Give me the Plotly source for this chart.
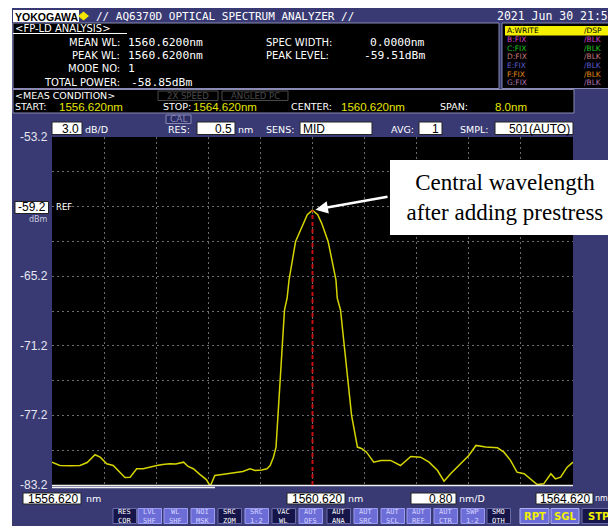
import plotly.graph_objects as go

# ---------------- spectrum data (trace A) ----------------
wavelength_nm = [
    1556.62, 1556.74, 1556.90, 1557.05, 1557.16, 1557.28, 1557.36, 1557.46, 1557.56, 1557.63,
    1557.74, 1557.82, 1557.92, 1558.02, 1558.12, 1558.23, 1558.32, 1558.43, 1558.52, 1558.64,
    1558.71, 1558.79, 1558.89, 1558.99, 1559.05, 1559.12, 1559.23, 1559.35, 1559.46, 1559.55,
    1559.66, 1559.74, 1559.84, 1559.92, 1559.97, 1560.02, 1560.06, 1560.09, 1560.12, 1560.16,
    1560.19, 1560.23, 1560.26, 1560.36, 1560.48, 1560.54, 1560.62, 1560.70, 1560.76, 1560.86,
    1560.98, 1561.00, 1561.05, 1561.11, 1561.16, 1561.22, 1561.31, 1561.38, 1561.45, 1561.51,
    1561.56, 1561.67, 1561.82, 1561.97, 1562.13, 1562.28, 1562.41, 1562.54, 1562.64, 1562.74,
    1562.90, 1563.02, 1563.13, 1563.28, 1563.46, 1563.56, 1563.66, 1563.76, 1563.87, 1564.02,
    1564.07, 1564.17, 1564.28, 1564.35, 1564.43, 1564.53, 1564.62,
]
level_dbm = [
    -81.23, -81.52, -81.55, -81.52, -81.26, -80.59, -80.80, -81.37, -81.52, -81.95,
    -82.55, -82.53, -81.80, -81.80, -81.65, -81.52, -81.43, -81.37, -81.39, -81.23,
    -81.60, -81.80, -82.29, -82.73, -83.30, -82.38, -82.29, -82.18, -82.09, -82.03,
    -81.80, -81.95, -81.90, -81.80, -81.52, -80.80, -79.93, -77.19, -74.17, -71.14,
    -68.11, -67.10, -65.52, -62.21, -60.62, -59.90, -59.51, -59.90, -60.62, -62.21,
    -65.52, -67.10, -68.11, -71.14, -74.17, -77.19, -79.93, -80.07, -80.37, -80.80,
    -81.23, -81.08, -81.08, -81.52, -80.74, -80.80, -81.23, -81.95, -82.87, -82.23,
    -81.32, -80.65, -79.79, -79.93, -79.99, -80.37, -81.08, -82.09, -82.23, -82.96,
    -83.16, -83.10, -82.23, -82.67, -82.53, -81.66, -81.23,
]

peak_wl = 1560.62
peak_level = -59.51
start_wl, center_wl, stop_wl = 1556.620, 1560.620, 1564.620
nm_per_div = 0.80
top_level, bottom_level = -53.2, -83.2
ref_level = -59.2
db_per_div = 3.0
y_tick_labels = [-53.2, -65.2, -71.2, -77.2, -83.2]

trace_rows = ["A:WRITE", "B:FIX", "C:FIX", "D:FIX", "E:FIX", "F:FIX", "G:FIX"]
trace_modes = ["/DSP", "/BLK", "/BLK", "/BLK", "/BLK", "/BLK", "/BLK"]
trace_colors = ["#000000", "#d040c8", "#20c020", "#c07878", "#5a5ac8", "#e08818", "#b070b0"]

soft_keys_top = ["RES", "LVL", "WL", "NOI", "SRC", "SRC", "VAC", "AUT", "AUT", "AUT", "AUT", "AUT", "AUT", "SWP", "SMO"]
soft_keys_bot = ["COR", "SHF", "SHF", "MSK", "ZOM", "1-2", "WL", "OFS", "ANA", "SRC", "SCL", "REF", "CTR", "1-2", "OTH"]
soft_keys_lit = [False, True, True, True, False, True, False, True, False, True, True, True, True, True, False]
soft_keys_x = [113, 138, 164, 191, 218, 245, 272, 299, 327, 354, 381, 407, 434, 461, 487]
sweep_keys = ["RPT", "SGL", "STP"]
sweep_keys_lit = [True, True, False]
sweep_keys_x = [(520, 549), (551, 579), (582, 615)]

# ---------------- page geometry (pixels) ----------------
W, H = 608, 526
PL, PR, PT, PB = 52, 573, 137, 485

NAVY = "#393a74"
YELLOW = "#e4e400"
TRACE = "#d4d400"
MONO = "DejaVu Sans Mono"
SANS = "DejaVu Sans"
DIGITS = "Liberation Sans, Arial, sans-serif"


def px(x):
    return (x - PL) / (PR - PL)


def py(y):
    return (PB - y) / (PB - PT)


shapes, annos = [], []


def rect(x0, y0, x1, y1, fill, line=None, lw=0, layer="below"):
    shapes.append(dict(type="rect", xref="paper", yref="paper", layer=layer,
                       x0=px(x0), x1=px(x1), y0=py(y1), y1=py(y0),
                       fillcolor=fill, line=dict(color=line if line else fill, width=lw)))


def hline(x0, x1, y, color, w=1, layer="below"):
    shapes.append(dict(type="line", xref="paper", yref="paper", layer=layer,
                       x0=px(x0), x1=px(x1), y0=py(y), y1=py(y),
                       line=dict(color=color, width=w)))


def label(x, y, s, color="white", size=10, family=SANS, anchor="left", **kw):
    kw.setdefault("borderpad", 0)
    annos.append(dict(xref="paper", yref="paper", x=px(x), y=py(y), text=s,
                      showarrow=False, xanchor=anchor, yanchor="middle",
                      font=dict(family=family, size=size, color=color), **kw))


def boxed(x0, y0, x1, y1, s, align="right", size=12, family=DIGITS):
    rect(x0, y0, x1, y1, "white", "#222222", 1)
    if align == "right":
        label(x1 - 2, (y0 + y1) / 2 + 0.5, s, "black", size, family, "right")
    else:
        label(x0 + 2, (y0 + y1) / 2 + 0.5, s, "black", size, family, "left")


# screen background and plot window
rect(12, 8, 620, 530, NAVY)
rect(PL, PT, PR, PB, "black")

# title bar
rect(13, 10, 79, 22, "white")
label(46, 16.5, "<b>YOKOGAWA</b>", "black", 10.5, DIGITS, "center")
shapes.append(dict(type="path", xref="paper", yref="paper", layer="below",
                   path=f"M {px(78)},{py(16)} L {px(83.5)},{py(11.5)} L {px(89)},{py(16)} L {px(83.5)},{py(20.5)} Z",
                   fillcolor="#f2e600", line=dict(width=0)))
label(95, 16, "// AQ6370D OPTICAL SPECTRUM ANALYZER //", "white", 11, MONO)
label(496, 16, "2021 Jun 30 21:5", "white", 11.5, MONO)

# analysis panel
rect(13, 23, 499, 88.5, "black", "#8a8ab4", 1)
label(14, 28.5, "&lt;FP-LD ANALYSIS&gt;", "white", 10, SANS)
hline(13, 127, 33.5, "white", 1)
for yy, name in [(43, "MEAN WL:"), (56, "PEAK WL:"), (69, "MODE NO:"), (82, "TOTAL POWER:")]:
    label(121, yy, name, "white", 10, SANS, "right")
VAL = 11.3
label(127, 43, "1560.6200nm", "white", VAL, MONO)
label(127, 56, "1560.6200nm", "white", VAL, MONO)
label(127, 69, "1", "white", VAL, MONO)
label(130, 82, f"{-58.85:.2f}dBm", "white", VAL, MONO)
label(265, 43, "SPEC WIDTH:", "white", 10, SANS)
label(265, 56, "PEAK LEVEL:", "white", 10, SANS)
label(426, 43, "0.0000nm", "white", VAL, MONO, "right")
label(426, 56, f"{peak_level:.2f}dBm", "white", VAL, MONO, "right")

# trace list panel
rect(502, 23, 615, 88.5, "black", "#8a8ab4", 1)
rect(505, 26, 615, 35.5, "#f4f000")
for i, (nm_, md, col) in enumerate(zip(trace_rows, trace_modes, trace_colors)):
    yy = 30.8 + 8.65 * i
    label(506, yy, nm_, col, 7.5, SANS)
    label(583, yy, md, col, 7.5, SANS)

# measurement condition panel
rect(13, 89.5, 574, 113, "black", "#8a8ab4", 1)
label(14, 95, "&lt;MEAS CONDITION&gt;", "white", 9.5, SANS)
for x0, x1, s in [(158, 218, "2X SPEED"), (222, 288, "ANGLED PC")]:
    rect(x0, 91, x1, 100.5, "black", "#4a4a4a", 1)
    label((x0 + x1) / 2, 95.5, s, "#4a4a4a", 8.5, SANS, "center")
label(14, 107, "START:", "white", 9.5, SANS)
label(58, 107, f"{start_wl:.3f}nm", YELLOW, 11.5, DIGITS)
label(162, 107, "STOP:", "white", 9.5, SANS)
label(192, 107, f"{stop_wl:.3f}nm", YELLOW, 11.5, DIGITS)
label(290, 107, "CENTER:", "white", 9.5, SANS)
label(340, 107, f"{center_wl:.3f}nm", YELLOW, 11.5, DIGITS)
label(439, 107, "SPAN:", "white", 9.5, SANS)
label(528, 107, f"{stop_wl - start_wl:.1f}nm", YELLOW, 11.5, DIGITS, "right")

# settings row
boxed(52, 122, 82, 134.5, f"{db_per_div:.1f}")
label(84, 129, "dB/D", "white", 9.5, SANS)
rect(166, 115, 191, 123.5, "#2c2c66", "#8a8ab4", 1)
label(178.5, 119.5, "CAL", "#8a8ab4", 9, SANS, "center")
label(167, 129.5, "RES:", "white", 9.5, SANS)
boxed(197, 122, 235, 134.5, "0.5")
label(237, 129.5, "nm", "white", 9.5, SANS)
label(265, 129.5, "SENS:", "white", 9.5, SANS)
boxed(300, 122, 372, 134.5, "MID", "left")
label(390, 129.5, "AVG:", "white", 9.5, SANS)
boxed(419, 122, 442, 134.5, "1")
label(459, 129.5, "SMPL:", "white", 9.5, SANS)
boxed(495, 122, 573, 134.5, "501(AUTO)")

# level scale labels
for v in y_tick_labels:
    annos.append(dict(xref="paper", yref="y", x=px(49.5), y=v, text=f"{v:.1f}",
                      showarrow=False, xanchor="right", yanchor="middle",
                      font=dict(family=DIGITS, size=12, color="#e6e6f0")))
rect(15, 201.5, 48.5, 213.5, "white", "#222222", 1)
annos.append(dict(xref="paper", yref="y", x=px(47), y=ref_level, text=f"{ref_level:.1f}",
                  showarrow=False, xanchor="right", yanchor="middle", borderpad=0,
                  font=dict(family=DIGITS, size=12, color="black")))
label(48.5, 219, "dBm", "#c8c8d8", 8, SANS, "right")
annos.append(dict(xref="paper", yref="y", x=px(54), y=ref_level, text="REF",
                  showarrow=False, xanchor="left", yanchor="middle",
                  font=dict(family=SANS, size=8.5, color="white")))

# bottom frame line and wavelength scale
hline(PL, PR, 485.5, "#f0f0f0", 1.5, "above")
hline(PL, 215, 487.5, "#f0f0f0", 1.5, "above")
boxed(23, 493, 81, 504, f"{start_wl:.3f}")
label(85, 498.5, "nm", "white", 9.5, SANS)
boxed(287, 493, 345, 504, f"{center_wl:.3f}")
label(347, 498.5, "nm", "white", 9.5, SANS)
boxed(411, 493, 456, 504, f"{nm_per_div:.2f}")
label(458, 498.5, "nm/D", "white", 9.5, SANS)
boxed(536, 493, 593, 504, f"{stop_wl:.3f}")
label(594, 498.5, "nm", "white", 8, SANS)

# soft keys
for top, bot, lit, x0 in zip(soft_keys_top, soft_keys_bot, soft_keys_lit, soft_keys_x):
    x1 = x0 + 23.5
    if lit:
        rect(x0, 508.5, x1, 523.5, "#6d6dd8", "#9a9af0", 1)
        col = "#d4d4ff"
    else:
        rect(x0, 508.5, x1, 523.5, "#15154a", "#6a6aa8", 1)
        col = "white"
    label((x0 + x1) / 2, 516, f"{top}<br>{bot}", col, 7, MONO, "center")
for name, lit, (x0, x1) in zip(sweep_keys, sweep_keys_lit, sweep_keys_x):
    if lit:
        rect(x0, 508.5, x1, 523.5, "#6d6dd8", "#b0b0f0", 1)
    else:
        rect(x0, 508.5, x1, 523.5, "#15154a", "#6a6aa8", 1)
    label((x0 + x1) / 2, 516, f"<b>{name}</b>", "#f0f000", 10, SANS, "center")

# peak marker line
shapes.append(dict(type="line", xref="x", yref="y", layer="above",
                   x0=peak_wl, x1=peak_wl, y0=bottom_level, y1=peak_level,
                   line=dict(color="#c81010", width=2, dash="4px,3px")))

# callout arrow and text box
annos.append(dict(xref="x", yref="y", x=peak_wl, y=peak_level, text=" ",
                  showarrow=True, ax=78, ay=-14, arrowhead=2, arrowsize=1,
                  arrowwidth=2.5, arrowcolor="white", standoff=3))
annos.append(dict(xref="paper", yref="paper", x=px(390), y=py(160), xanchor="left", yanchor="top",
                  text="Central wavelength<br>after adding prestress", showarrow=False,
                  bgcolor="white", borderpad=0, borderwidth=0, width=230, height=75,
                  align="center", font=dict(family="Liberation Serif, Times New Roman, serif",
                                            size=23, color="black")))

fig = go.Figure(go.Scatter(x=wavelength_nm, y=level_dbm, mode="lines",
                           line=dict(color=TRACE, width=1.5), hoverinfo="skip"))

grid = dict(showgrid=True, gridcolor="#6c6c6c", gridwidth=1, griddash="2px,3px",
            zeroline=False, showline=False, ticks="", showticklabels=False, fixedrange=True)
fig.update_xaxes(range=[start_wl, stop_wl], tick0=start_wl, dtick=nm_per_div, **grid)
fig.update_yaxes(range=[bottom_level, top_level], tick0=bottom_level, dtick=db_per_div, **grid)

fig.update_layout(
    width=W, height=H,
    margin=dict(l=PL, r=W - PR, t=PT, b=H - PB, autoexpand=False),
    paper_bgcolor="white", plot_bgcolor="black",
    showlegend=False, shapes=shapes, annotations=annos,
)

fig.write_html("out.html")
